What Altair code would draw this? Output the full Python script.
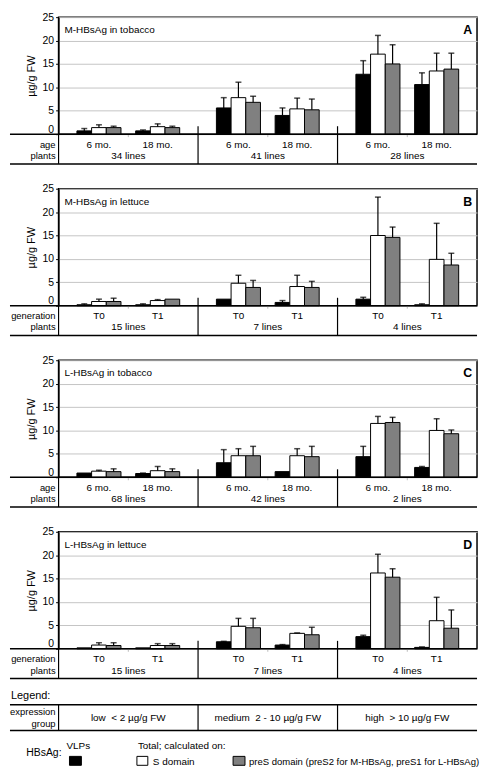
import altair as alt
import pandas as pd

FONT = "Liberation Sans"
W = 422      # plot width
HB = 118     # bar panel height
HT = 30      # table height under each panel
GAP = 25     # gap between panels
HL = 88      # legend block height

GROUPS = [0, 1, 2]
COLS = ["L", "a_v", "a_s", "a_p", "gap", "b_v", "b_s", "b_p", "R"]
SERIES = ["v", "s", "p"]
Y_TICKS = [0, 5, 10, 15, 20, 25]

# ---------------- data ----------------
# order: low(6mo/T0, 18mo/T1), medium(...), high(...)
A_vlp = [0.7, 0.7, 5.6, 4.0, 12.8, 10.6]
A_vlp_err = [1.2, 0.9, 7.8, 5.6, 15.7, 13.1]
A_s = [1.4, 1.6, 7.8, 5.4, 17.1, 13.5]
A_s_err = [2.0, 2.2, 11.1, 7.7, 21.1, 17.3]
A_p = [1.4, 1.4, 6.8, 5.2, 15.0, 13.9]
A_p_err = [1.7, 1.7, 8.1, 7.5, 19.1, 17.3]

B_vlp = [0.2, 0.2, 1.4, 0.7, 1.4, 0.2]
B_vlp_err = [0.4, 0.4, None, 1.1, 1.8, 0.4]
B_s = [0.9, 1.1, 4.8, 4.1, 15.0, 9.9]
B_s_err = [1.4, 1.3, 6.5, 6.5, 23.2, 17.6]
B_p = [0.9, 1.4, 3.9, 3.9, 14.6, 8.7]
B_p_err = [1.6, None, 5.4, 5.2, 16.8, 11.2]

C_vlp = [0.9, 0.8, 3.1, 1.2, 4.4, 2.1]
C_vlp_err = [None, 0.9, 5.9, None, 6.6, 2.3]
C_s = [1.3, 1.4, 4.6, 4.6, 11.5, 10.0]
C_s_err = [1.5, 2.3, 6.1, 6.1, 13.0, 12.5]
C_p = [1.2, 1.2, 4.6, 4.4, 11.7, 9.3]
C_p_err = [1.8, 1.8, 6.6, 6.6, 12.8, 10.1]

D_vlp = [0.2, 0.2, 1.5, 0.8, 2.6, 0.3]
D_vlp_err = [None, None, 1.6, 0.9, 2.9, 0.4]
D_s = [0.8, 0.7, 4.8, 3.3, 16.2, 6.0]
D_s_err = [1.3, 1.1, 6.5, 3.4, 20.2, 11.0]
D_p = [0.7, 0.7, 4.5, 3.0, 15.3, 4.4]
D_p_err = [1.3, 1.1, 6.5, 4.6, 17.1, 8.3]

AGE_LABELS = ["6 mo.", "18 mo."]
GEN_LABELS = ["T0", "T1"]
A_lines = ["34 lines", "41 lines", "28 lines"]
B_lines = ["15 lines", "7 lines", "4 lines"]
C_lines = ["68 lines", "42 lines", "2 lines"]
D_lines = ["15 lines", "7 lines", "4 lines"]

EXPR_GROUPS = ["low\u00a0 < 2 µg/g FW", "medium\u00a0 2 - 10 µg/g FW", "high\u00a0 > 10 µg/g FW"]


def xs():
    return alt.Scale(domain=GROUPS, paddingInner=0, paddingOuter=0)


def xo():
    return alt.Scale(domain=COLS, paddingInner=0, paddingOuter=0.25)


X = alt.X("group:O", scale=xs(), axis=None)
XO = alt.XOffset("col:N", scale=xo())


def yaxis():
    return alt.Axis(values=Y_TICKS, tickCount=6, title="µg/g FW", titleFontSize=11,
                    titleFontWeight="normal", titlePadding=6, labelFontSize=10.5,
                    labelOverlap=False, labelFlush=False,
                    tickSize=3, tickColor="black", domainColor="black",
                    gridColor="#c4c4c4", labelColor="black", titleColor="black",
                    labelOffset={"condition": {"test": "datum.value === 0", "value": -5}, "value": 0})


def yscale():
    return alt.Scale(domain=[0, 25], nice=False)


def make_df(vlp, vlp_err, s, s_err, p, p_err):
    rows = []
    for i in range(6):
        g = i // 2
        sub = "ab"[i % 2]
        for ser, vals, errs in (("v", vlp, vlp_err), ("s", s, s_err), ("p", p, p_err)):
            rows.append(dict(group=g, col=f"{sub}_{ser}", series=ser,
                             value=vals[i], err=errs[i]))
    return pd.DataFrame(rows)


def hline(y, x0=-49, x1=W, sw=1.5):
    return alt.Chart(pd.DataFrame({"k": [0]})).mark_rule(color="black", strokeWidth=sw).encode(
        x=alt.value(x0), x2=alt.value(x1), y=alt.value(y))


def vline(x, y0, y1, sw=1.2):
    return alt.Chart(pd.DataFrame({"k": [0]})).mark_rule(color="black", strokeWidth=sw).encode(
        x=alt.value(x), y=alt.value(y0), y2=alt.value(y1))


def label(text, x, y, align="left", size=10, weight="normal", baseline="middle"):
    return alt.Chart(pd.DataFrame({"t": [text]})).mark_text(
        align=align, baseline=baseline, fontSize=size, fontWeight=weight, fill="black"
    ).encode(x=alt.value(x), y=alt.value(y), text="t:N")


def panel(title, letter, row_label, subs, lines, arrays, table_h):
    df = make_df(*arrays)
    base = alt.Chart(df)
    bars = base.mark_bar(stroke="black", strokeWidth=1).encode(
        x=X, xOffset=XO,
        y=alt.Y("value:Q", scale=yscale(), axis=yaxis()),
        fill=alt.Fill("series:N", scale=alt.Scale(domain=SERIES, range=["#000000", "#ffffff", "#808080"]),
                      legend=None))
    errs = base.transform_filter("isValid(datum.err)").mark_rule(color="black", strokeWidth=1.2).encode(
        x=X, xOffset=XO, y=alt.Y("value:Q", scale=yscale(), axis=yaxis()), y2="err:Q")
    caps = base.transform_filter("isValid(datum.err)").mark_tick(
        orient="horizontal", color="black", size=6, thickness=1.5).encode(
        x=X, xOffset=XO, y=alt.Y("err:Q", scale=yscale(), axis=yaxis()))
    top = alt.layer(
        bars, errs, caps,
        label(title, 6, 13),
        label(letter, W - 5, 13, align="right", size=12.5, weight="bold"),
    ).properties(width=W, height=HB, view=alt.ViewBackground(stroke="black", strokeWidth=1.5))

    sub_df = pd.DataFrame({"group": [0, 0, 1, 1, 2, 2],
                           "col": ["a_s", "b_s"] * 3,
                           "label": subs * 3})
    lines_df = pd.DataFrame({"group": GROUPS, "label": lines})
    row1 = alt.Chart(sub_df).mark_text(fontSize=10, baseline="middle", fill="black").encode(
        x=X, xOffset=XO, y=alt.value(10.5), text="label:N")
    row2 = alt.Chart(lines_df).mark_text(fontSize=10, baseline="middle", fill="black").encode(
        x=X, y=alt.value(22), text="label:N")
    dividers = alt.Chart(pd.DataFrame({"group": [1, 2]})).mark_rule(color="black", strokeWidth=1.2).encode(
        x=alt.X("group:O", scale=xs(), axis=None, bandPosition=0),
        y=alt.value(-8), y2=alt.value(HT))
    cticks = alt.Chart(pd.DataFrame({"group": GROUPS})).mark_rule(color="#bbbbbb").encode(
        x=X, y=alt.value(0), y2=alt.value(3))
    table = alt.layer(
        cticks, row1, row2, dividers,
        hline(0), hline(HT), vline(0, 0, HT),
        label(row_label, -3, 10.5, align="right", size=9.5),
        label("plants", -3, 22, align="right", size=9.5),
    ).properties(width=W, height=table_h, view=alt.ViewBackground(stroke=None))
    return [top, table]


def legend_block():
    gdf = pd.DataFrame({"group": GROUPS, "label": EXPR_GROUPS})
    gtext = alt.Chart(gdf).mark_text(fontSize=10, baseline="middle", fill="black").encode(
        x=X, y=alt.value(39.5), text="label:N")
    dividers = alt.Chart(pd.DataFrame({"group": [1, 2]})).mark_rule(color="black", strokeWidth=1.2).encode(
        x=alt.X("group:O", scale=xs(), axis=None, bandPosition=0),
        y=alt.value(26.5), y2=alt.value(52.5))
    sq = lambda x0, x1, fill: alt.Chart(pd.DataFrame({"k": [0]})).mark_rect(
        fill=fill, stroke="black", strokeWidth=1).encode(
        x=alt.value(x0), x2=alt.value(x1), y=alt.value(78.5), y2=alt.value(87.5))
    return alt.layer(
        dividers, gtext,
        label("Legend:", -48, 17.5, size=11),
        hline(26.5), hline(52.5), vline(0, 26.5, 52.5),
        label("expression", -3, 33.5, align="right", size=9.5),
        label("group", -3, 45.5, align="right", size=9.5),
        label("HBsAg:", 3, 75, align="right", size=10.5),
        label("VLPs", 8, 68.5, size=10),
        sq(11, 23, "#000000"),
        label("Total; calculated on:", 80, 68.5, size=10),
        sq(79, 90, "#ffffff"),
        label("S domain", 95, 84, size=10),
        sq(176, 188, "#808080"),
        label("preS domain (preS2 for M-HBsAg, preS1 for L-HBsAg)", 192, 84, size=9.6),
    ).properties(width=W, height=HL, view=alt.ViewBackground(stroke=None))


parts = []
parts += panel("M-HBsAg in tobacco", "A", "age", AGE_LABELS, A_lines,
               (A_vlp, A_vlp_err, A_s, A_s_err, A_p, A_p_err), HT + GAP)
parts += panel("M-HBsAg in lettuce", "B", "generation", GEN_LABELS, B_lines,
               (B_vlp, B_vlp_err, B_s, B_s_err, B_p, B_p_err), HT + GAP)
parts += panel("L-HBsAg in tobacco", "C", "age", AGE_LABELS, C_lines,
               (C_vlp, C_vlp_err, C_s, C_s_err, C_p, C_p_err), HT + GAP)
parts += panel("L-HBsAg in lettuce", "D", "generation", GEN_LABELS, D_lines,
               (D_vlp, D_vlp_err, D_s, D_s_err, D_p, D_p_err), HT)
parts.append(legend_block())

chart = alt.vconcat(*parts, spacing=0, bounds="flush").properties(
    padding={"left": 1, "top": 0, "right": 0, "bottom": 0}
).configure(font=FONT).configure_view(stroke=None).configure_text(font=FONT)

chart.save("out.html", embed_options={"renderer": "svg", "actions": False})
